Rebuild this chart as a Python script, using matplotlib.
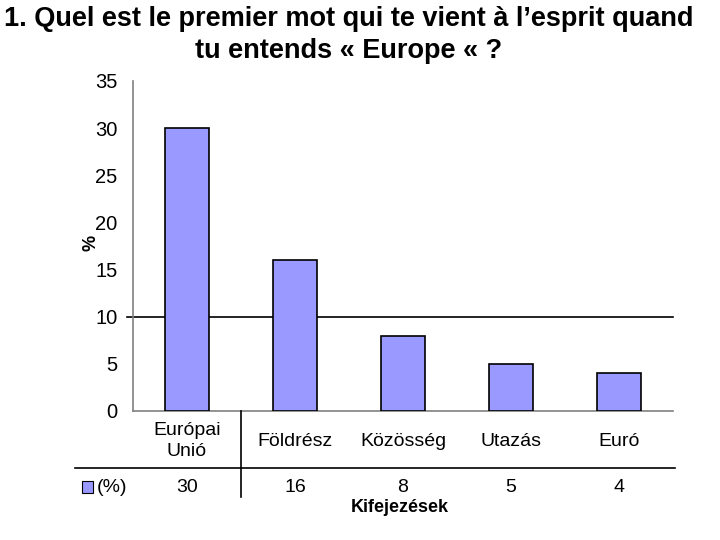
import matplotlib
matplotlib.use("Agg")
import matplotlib.pyplot as plt
from matplotlib.lines import Line2D
from matplotlib.patches import Rectangle
from matplotlib.transforms import blended_transform_factory

categories = ["Európai\nUnió", "Földrész", "Közösség", "Utazás", "Euró"]
values = [30, 16, 8, 5, 4]
yticks = [0, 5, 10, 15, 20, 25, 30, 35]
series_label = "(%)"
title = "1. Quel est le premier mot qui te vient à l’esprit quand\ntu entends « Europe « ?"
xlabel = "Kifejezések"
ylabel = "%"

plt.rcParams['font.family'] = ['Liberation Sans', 'DejaVu Sans']

fig = plt.figure(figsize=(7.2, 5.4), dpi=100)
ax = fig.add_axes([133/720, 1-411/540, 540/720, 330/540])

x = list(range(len(categories)))
ax.bar(x, values, width=0.4, color="#9999FF", edgecolor="black", linewidth=1.2, zorder=3)
ax.set_xlim(-0.5, len(categories)-0.5)
ax.set_ylim(0, 35)
ax.set_yticks(yticks)
ax.set_yticklabels([str(t) for t in yticks], fontsize=14.5)
ax.tick_params(axis='y', length=0, pad=11)
ax.set_xticks([])
for s in ["top", "right"]:
    ax.spines[s].set_visible(False)
for s in ["left", "bottom"]:
    ax.spines[s].set_color("#808080")
    ax.spines[s].set_linewidth(1.2)

# gridline at 10
ax.add_line(Line2D([-0.011, 1.0], [10, 10], transform=blended_transform_factory(ax.transAxes, ax.transData),
                   color="black", linewidth=1.2, clip_on=False, zorder=1))

ax.text(-0.078, 0.51, ylabel, transform=ax.transAxes, rotation=90, fontsize=13,
        fontweight='bold', ha='center', va='center')

# data table
bt = blended_transform_factory(ax.transData, fig.transFigure)
for xi, c, v in zip(x, categories, values):
    fig.text(xi, 1-441/540, c, transform=bt, ha='center', va='center', fontsize=14, linespacing=1.35)
    fig.text(xi, 1-487/540, str(v), transform=bt, ha='center', va='center', fontsize=14)

fig.add_artist(Line2D([75/720, 675/720], [1-468/540, 1-468/540], transform=fig.transFigure,
                      color="black", linewidth=1.2))
fig.add_artist(Line2D([0.5, 0.5], [1-411/540, 1-497/540], transform=bt,
                      color="black", linewidth=1.2))
fig.add_artist(Rectangle((82/720, 1-493/540), 11/720, 12/540, transform=fig.transFigure,
                         facecolor="#9999FF", edgecolor="black", linewidth=0.8))
fig.text(97/720, 1-487/540, series_label, ha='left', va='center', fontsize=14)

fig.text(400/720, 1-507/540, xlabel, ha='center', va='center', fontsize=13, fontweight='bold')

fig.text(349/720, 1-35/540, title, ha='center', va='center', fontsize=19.5, fontweight='bold',
         linespacing=1.3)

fig.savefig("out.png", dpi=100)
